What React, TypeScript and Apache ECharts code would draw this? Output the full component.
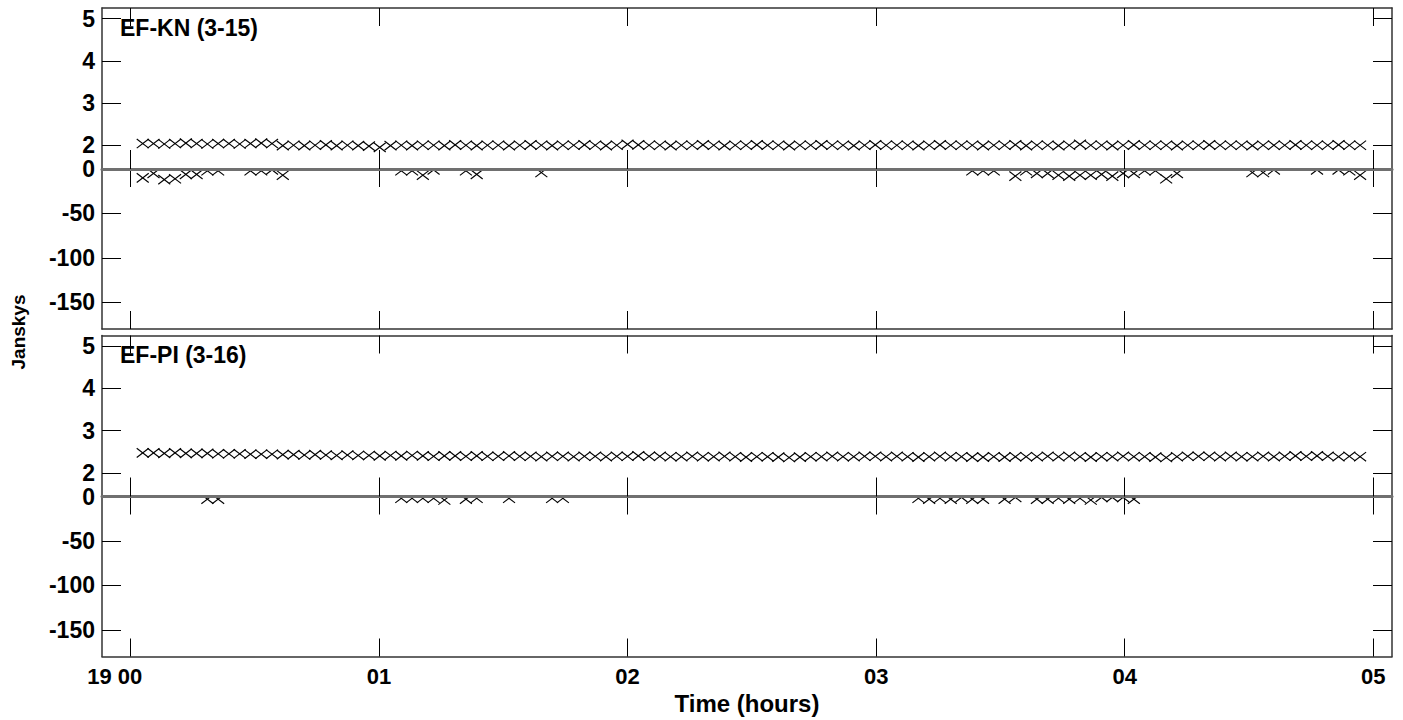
import React, { useEffect, useRef } from "react";
import * as echarts from "echarts";

// ---- data ----
const timeMinutes = [
  3.0, 5.6, 8.2, 10.8, 13.4, 16.0, 18.6, 21.2, 23.8, 26.4, 29.0, 31.6, 34.2,
  36.8, 39.4, 42.0, 44.6, 47.2, 49.8, 52.4, 55.0, 57.6, 60.2, 62.8, 65.4, 68.0,
  70.6, 73.2, 75.8, 78.4, 81.0, 83.6, 86.2, 88.8, 91.4, 94.0, 96.6, 99.2, 101.8,
  104.4, 107.0, 109.6, 112.2, 114.8, 117.4, 120.0, 122.6, 125.2, 127.8, 130.4, 133.0, 135.6,
  138.2, 140.8, 143.4, 146.0, 148.6, 151.2, 153.8, 156.4, 159.0, 161.6, 164.2, 166.8, 169.4,
  172.0, 174.6, 177.2, 179.8, 182.4, 185.0, 187.6, 190.2, 192.8, 195.4, 198.0, 200.6, 203.2,
  205.8, 208.4, 211.0, 213.6, 216.2, 218.8, 221.4, 224.0, 226.6, 229.2, 231.8, 234.4, 237.0,
  239.6, 242.2, 244.8, 247.4, 250.0, 252.6, 255.2, 257.8, 260.4, 263.0, 265.6, 268.2, 270.8,
  273.4, 276.0, 278.6, 281.2, 283.8, 286.4, 289.0, 291.6, 294.2, 296.8,
];

const ampKN = [
  2.04, 2.04, 2.03, 2.04, 2.05, 2.04, 2.03, 2.04, 2.04, 2.03, 2.04, 2.05, 2.04,
  1.99, 2.0, 1.99, 2.0, 2.01, 1.99, 2.0, 1.99, 1.98, 1.95, 1.99, 2.0, 1.99,
  2.0, 2.0, 1.99, 2.01, 2.0, 1.99, 2.0, 2.0, 1.99, 2.0, 2.01, 2.0, 1.99,
  2.0, 2.0, 2.01, 2.0, 1.99, 2.0, 2.02, 2.01, 2.0, 2.0, 1.99, 2.0, 2.0,
  2.01, 2.0, 1.99, 2.0, 2.0, 2.01, 2.0, 2.0, 1.99, 2.0, 2.0, 2.01, 2.0,
  2.0, 1.99, 2.0, 2.01, 2.0, 2.0, 2.0, 1.99, 2.0, 2.01, 2.0, 2.0, 2.0,
  1.99, 2.0, 2.0, 2.01, 1.99, 2.0, 2.0, 1.99, 2.0, 2.02, 2.0, 2.0, 1.99,
  2.0, 2.01, 2.0, 2.0, 2.0, 1.99, 2.0, 2.0, 2.01, 2.0, 2.0, 2.0, 1.99,
  2.0, 2.0, 2.0, 2.01, 2.0, 2.0, 2.0, 2.01, 2.0, 2.0,
];

const ampPI = [
  2.47, 2.47, 2.46, 2.47, 2.46, 2.46, 2.46, 2.45, 2.45, 2.45, 2.44, 2.44, 2.44,
  2.43, 2.43, 2.42, 2.43, 2.42, 2.41, 2.42, 2.41, 2.41, 2.4, 2.41, 2.4, 2.41,
  2.4, 2.39, 2.4, 2.4, 2.39, 2.4, 2.39, 2.39, 2.4, 2.39, 2.39, 2.38, 2.39,
  2.39, 2.38, 2.39, 2.39, 2.38, 2.39, 2.39, 2.4, 2.39, 2.39, 2.38, 2.38, 2.39,
  2.38, 2.38, 2.39, 2.38, 2.37, 2.38, 2.38, 2.37, 2.36, 2.37, 2.38, 2.38, 2.39,
  2.38, 2.38, 2.39, 2.39, 2.38, 2.39, 2.38, 2.37, 2.38, 2.39, 2.38, 2.38, 2.37,
  2.37, 2.38, 2.37, 2.38, 2.38, 2.38, 2.39, 2.38, 2.39, 2.38, 2.37, 2.38, 2.38,
  2.39, 2.38, 2.38, 2.37, 2.36, 2.38, 2.39, 2.39, 2.39, 2.38, 2.39, 2.38, 2.38,
  2.39, 2.38, 2.39, 2.4, 2.39, 2.4, 2.39, 2.38, 2.39, 2.38,
];

const phaseKNMinutes = [
  3.0, 5.6, 8.2, 10.8, 13.4, 16.0, 18.6, 21.2, 29.0, 31.6, 34.2, 36.8, 65.4, 68.0,
  70.6, 73.2, 81.0, 83.6, 99.2, 203.2, 205.8, 208.4, 213.6, 216.2, 218.8, 221.4,
  224.0, 226.6, 229.2, 231.8, 234.4, 237.0, 239.6, 242.2, 244.8, 247.4, 250.0,
  252.6, 270.8, 273.4, 276.0, 286.4, 291.6, 294.2, 296.8,
];
const phaseKN = [
  -10, -5, -12, -11, -6, -6, -2, -2, -2, -2, -1, -7, -2, -2, -7, -1, -2, -6, -4,
  -2, -2, -2, -8, -2, -5, -5, -7, -8, -7, -7, -6, -8, -5, -5, -2, -2, -11, -5,
  -4, -4, -1, -1, -1, -2, -7,
];

const phasePIMinutes = [
  18.6, 21.2, 65.4, 68.0, 70.6, 73.2, 75.8, 81.0, 83.6, 91.4, 101.8, 104.4,
  190.2, 192.8, 195.4, 198.0, 200.6, 203.2, 205.8, 211.0, 213.6, 218.8, 221.4,
  224.0, 226.6, 229.2, 231.8, 234.4, 237.0, 239.6, 242.2,
];
const phasePI = [
  -3, -3, -2, -2, -2, -2, -4, -3, -2, -2, -2, -2, -2, -3, -2, -3, -1, -3, -3,
  -3, -1, -3, -3, -2, -3, -2, -4, -1, -1, -1, -3,
];

const hourTicks = [0, 60, 120, 180, 240, 300];
const hourLabels = ["19 00", "01", "02", "03", "04", "05"];
const ampTicks = [2, 3, 4, 5];
const phaseTicks = [0, -50, -100, -150];
const panelTitles = ["EF-KN (3-15)", "EF-PI (3-16)"];
const yAxisTitle = "Janskys";
const xAxisTitle = "Time (hours)";

// ---- layout / style ----
const FONT = '"Liberation Sans", Arial, Helvetica, sans-serif';
const X_MIN = -6.83;
const X_MAX = 304.5;
const AMP_MIN = 1.437;
const AMP_MAX = 5.254;
const PH_MIN = -180;
const PH_MAX = 0;
const LEFT = 102;
const RIGHT = 11;
const PANEL_TOPS = [8, 335.5];
const AMP_H = 161;
const PH_H = 160;
const BORDER = "#333";
const MARK_W = 6;
const MARK_H = 4.6;

function renderCross(_params: any, api: any) {
  const p = api.coord([api.value(0), api.value(1)]);
  const style = { stroke: "#000", lineWidth: 1.15, fill: null };
  return {
    type: "group",
    children: [
      {
        type: "line",
        shape: { x1: p[0] - MARK_W, y1: p[1] - MARK_H, x2: p[0] + MARK_W, y2: p[1] + MARK_H },
        style,
      },
      {
        type: "line",
        shape: { x1: p[0] - MARK_W, y1: p[1] + MARK_H, x2: p[0] + MARK_W, y2: p[1] - MARK_H },
        style,
      },
    ],
  };
}

function buildOption() {
  const grids: any[] = [];
  const xAxes: any[] = [];
  const yAxes: any[] = [];
  const series: any[] = [];

  const panels = [
    { amp: ampKN, phT: phaseKNMinutes, ph: phaseKN },
    { amp: ampPI, phT: phasePIMinutes, ph: phasePI },
  ];

  panels.forEach((p, pi) => {
    const top = PANEL_TOPS[pi];
    const isLast = pi === panels.length - 1;
    [0, 1].forEach((k) => {
      const gi = grids.length;
      const isAmp = k === 0;
      grids.push({
        left: LEFT,
        right: RIGHT,
        top: isAmp ? top : top + AMP_H,
        height: isAmp ? AMP_H : PH_H,
        containLabel: false,
      });
      const tickStyle = { color: "#000", width: 1 };
      xAxes.push({
        type: "value",
        gridIndex: gi,
        position: "top",
        min: X_MIN,
        max: X_MAX,
        z: 5,
        axisLine: {
          show: isAmp,
          onZero: false,
          lineStyle: { color: BORDER, width: 1.5 },
        },
        axisTick: {
          show: true,
          inside: true,
          length: 18,
          customValues: hourTicks,
          lineStyle: tickStyle,
        },
        axisLabel: { show: false },
        splitLine: { show: false },
      });
      xAxes.push({
        type: "value",
        gridIndex: gi,
        position: "bottom",
        min: X_MIN,
        max: X_MAX,
        z: 6,
        axisLine: {
          show: true,
          onZero: false,
          lineStyle: isAmp
            ? { color: "#707070", width: 3 }
            : { color: BORDER, width: 1.5 },
        },
        axisTick: {
          show: true,
          inside: true,
          length: isAmp ? 19 : 18,
          customValues: hourTicks,
          lineStyle: tickStyle,
        },
        axisLabel: {
          show: !isAmp && isLast,
          customValues: hourTicks,
          margin: 9,
          color: "#000",
          fontSize: 22,
          fontWeight: "bold",
          fontFamily: FONT,
          formatter: (v: number) => {
            const lab = hourLabels[hourTicks.indexOf(v)] ?? "";
            if (lab.indexOf(" ") > 0) {
              const parts = lab.split(" ");
              return "{d|" + parts[0] + " }" + parts[1] + "{p|}";
            }
            return lab;
          },
          rich: {
            d: {
              color: "#000",
              fontSize: 22,
              fontWeight: "bold",
              fontFamily: FONT,
            },
            p: { width: 31 },
          },
        },
        splitLine: { show: false },
      });
      const ticks = isAmp ? ampTicks : phaseTicks;
      const yMin = isAmp ? AMP_MIN : PH_MIN;
      const yMax = isAmp ? AMP_MAX : PH_MAX;
      ["left", "right"].forEach((pos) => {
        yAxes.push({
          type: "value",
          gridIndex: gi,
          position: pos,
          min: yMin,
          max: yMax,
          z: 5,
          axisLine: {
            show: true,
            onZero: false,
            lineStyle: { color: BORDER, width: 1.5 },
          },
          axisTick: {
            show: true,
            inside: true,
            length: 19,
            customValues: ticks,
            lineStyle: { color: "#000", width: 1 },
          },
          axisLabel: {
            show: pos === "left",
            customValues: ticks,
            margin: 7,
            color: "#000",
            fontSize: 23,
            fontWeight: "bold",
            fontFamily: FONT,
          },
          splitLine: { show: false },
        });
      });
      const xIdx = xAxes.length - 1;
      const yIdx = yAxes.length - 2;
      const data = isAmp
        ? timeMinutes.map((t, i) => [t, p.amp[i]])
        : p.phT.map((t, i) => [t, p.ph[i]]);
      series.push({
        type: "custom",
        xAxisIndex: xIdx,
        yAxisIndex: yIdx,
        data,
        clip: true,
        silent: true,
        z: 2,
        renderItem: renderCross,
      });
    });
  });

  const graphics: any[] = panelTitles.map((t, i) => ({
    type: "text",
    x: 120,
    y: PANEL_TOPS[i] + 19.5,
    style: {
      text: t,
      fill: "#000",
      font: "bold 23px " + FONT,
      align: "left",
      verticalAlign: "middle",
    },
  }));
  graphics.push({
    type: "text",
    x: 18,
    y: 332,
    rotation: Math.PI / 2,
    style: {
      text: yAxisTitle,
      fill: "#000",
      font: "bold 19px " + FONT,
      align: "center",
      verticalAlign: "middle",
    },
  });
  graphics.push({
    type: "text",
    x: 747,
    y: 703,
    style: {
      text: xAxisTitle,
      fill: "#000",
      font: "bold 24px " + FONT,
      align: "center",
      verticalAlign: "middle",
    },
  });

  return {
    animation: false,
    backgroundColor: "#fff",
    grid: grids,
    xAxis: xAxes,
    yAxis: yAxes,
    series,
    graphic: graphics,
  };
}

export default function App() {
  const ref = useRef<HTMLDivElement>(null);
  useEffect(() => {
    document.body.style.margin = "0";
    if (!ref.current) return;
    const chart = echarts.init(ref.current, undefined, { renderer: "svg" });
    chart.setOption(buildOption() as any);
    return () => chart.dispose();
  }, []);
  return <div ref={ref} style={{ width: 1403, height: 720 }} />;
}
